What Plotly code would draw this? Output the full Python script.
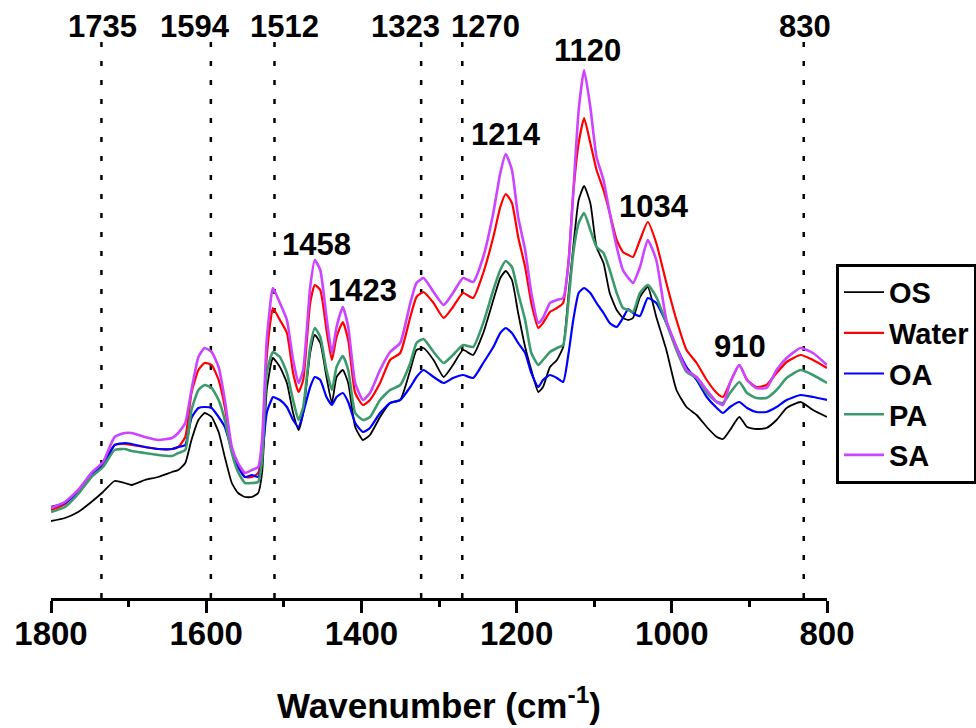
import plotly.graph_objects as go

# Wavenumber grid (cm-1)
wavenumber = [1800, 1782, 1765, 1748, 1733, 1718, 1705, 1696, 1679, 1662,
              1644, 1636, 1627, 1619, 1610, 1602, 1593, 1584, 1576, 1567,
              1559, 1550, 1541, 1533, 1528, 1522, 1516, 1514, 1505, 1496,
              1488, 1481, 1475, 1466, 1460, 1453, 1445, 1438, 1432, 1424,
              1417, 1408, 1398, 1389, 1376, 1363, 1350, 1337, 1329, 1320,
              1307, 1294, 1282, 1269, 1256, 1243, 1230, 1221, 1214, 1206,
              1198, 1189, 1181, 1172, 1166, 1157, 1148, 1140, 1133, 1127,
              1120, 1113, 1105, 1097, 1088, 1080, 1071, 1063, 1056, 1050,
              1041, 1031, 1020, 1007, 994, 981, 968, 955, 942, 934,
              925, 913, 903, 891, 878, 865, 852, 834, 818, 800]

# Intensities (arbitrary units)
sa = [90, 96, 108, 125, 136, 161, 165, 165, 161, 158,
      160, 165, 175, 208, 241, 250, 246, 231, 198, 151,
      135, 125, 128, 131, 158, 258, 303, 310, 295, 278,
      238, 215, 228, 311, 338, 328, 281, 245, 271, 291,
      271, 215, 198, 205, 228, 246, 255, 295, 315, 320,
      306, 293, 305, 320, 316, 341, 385, 425, 444, 428,
      381, 348, 305, 275, 280, 295, 298, 300, 335, 405,
      488, 528, 491, 441, 418, 385, 351, 328, 320, 315,
      331, 358, 338, 278, 251, 228, 221, 208, 196, 193,
      215, 233, 218, 210, 210, 228, 240, 250, 245, 233]

water = [88, 94, 108, 123, 133, 153, 154, 153, 151, 149,
         149, 151, 161, 205, 228, 235, 233, 218, 191, 148,
         133, 121, 121, 125, 151, 241, 283, 290, 278, 265,
         225, 206, 218, 295, 313, 308, 268, 238, 261, 276,
         258, 205, 193, 198, 215, 238, 245, 281, 301, 306,
         295, 280, 291, 305, 300, 325, 361, 391, 404, 395,
         361, 331, 295, 270, 275, 286, 290, 295, 338, 405,
         455, 480, 455, 428, 408, 385, 358, 346, 343, 341,
         358, 376, 355, 315, 278, 248, 235, 218, 205, 201,
         215, 233, 218, 211, 213, 225, 236, 243, 238, 230]

pa = [86, 91, 104, 121, 131, 148, 149, 147, 145, 143,
      142, 145, 148, 188, 208, 213, 210, 198, 178, 145,
      126, 115, 115, 116, 138, 225, 243, 246, 241, 225,
      198, 178, 191, 251, 270, 261, 228, 208, 231, 242,
      228, 185, 178, 181, 198, 208, 213, 235, 255, 259,
      246, 235, 243, 253, 251, 275, 308, 328, 337, 331,
      305, 278, 245, 233, 238, 246, 250, 253, 298, 345,
      375, 385, 368, 351, 345, 328, 305, 290, 288, 286,
      305, 313, 301, 275, 248, 226, 220, 205, 196, 195,
      205, 216, 205, 200, 200, 208, 220, 228, 223, 215]

os_ = [77, 80, 86, 96, 106, 117, 115, 113, 118, 121,
       126, 128, 135, 158, 178, 185, 181, 166, 141, 115,
       105, 101, 101, 105, 125, 208, 236, 240, 231, 215,
       185, 168, 185, 245, 263, 255, 221, 195, 221, 228,
       215, 171, 158, 163, 181, 195, 198, 228, 248, 250,
       238, 221, 233, 248, 243, 265, 298, 320, 327, 318,
       285, 251, 228, 206, 211, 231, 238, 251, 305, 351,
       398, 412, 395, 351, 335, 305, 288, 280, 278, 280,
       301, 311, 281, 248, 208, 191, 183, 171, 161, 159,
       168, 181, 171, 169, 170, 178, 190, 196, 188, 181]

oa = [91, 95, 106, 123, 133, 153, 155, 154, 151, 149,
      149, 151, 153, 180, 190, 191, 190, 181, 171, 148,
      131, 121, 123, 121, 141, 185, 198, 201, 198, 191,
      178, 171, 185, 211, 221, 218, 201, 193, 201, 205,
      196, 175, 166, 170, 185, 195, 198, 211, 221, 228,
      221, 215, 220, 223, 220, 235, 251, 265, 270, 265,
      255, 245, 225, 211, 218, 223, 220, 216, 245, 278,
      305, 310, 305, 295, 285, 275, 271, 280, 289, 285,
      282, 300, 295, 275, 251, 231, 218, 201, 190, 185,
      191, 196, 190, 186, 186, 191, 198, 203, 201, 198]

series_names = ["OS", "Water", "OA", "PA", "SA"]
series_values = [os_, water, oa, pa, sa]
series_colors = ["#000000", "#ff0000", "#0000ff", "#3c9a6c", "#cc44ff"]
series_widths = [1.8, 2.2, 2.2, 2.6, 2.6]

marked_peaks = [1735, 1594, 1512, 1323, 1270, 830]

# label text, anchor wavenumber, paper-y of label centre, x-shift (px)
label_text = ["1735", "1594", "1512", "1323", "1270", "830",
              "1120", "1214", "1458", "1423", "1034", "910"]
label_x = [1735, 1594, 1512, 1323, 1270, 830,
           1120, 1214, 1458, 1423, 1034, 910]
label_ypaper = [1.0233, 1.0233, 1.0233, 1.0233, 1.0233, 1.0233,
                0.9803, 0.8315, 0.6344, 0.5502, 0.7025, 0.4516]
label_dx = [1, -16, 10, -16, 23, 1,
            9, 0, 0, 19, 9, -2]

FONT = "Liberation Sans, Arial, sans-serif"

fig = go.Figure()
for name, vals, col, lw in zip(series_names, series_values, series_colors, series_widths):
    fig.add_trace(go.Scatter(
        x=wavenumber, y=vals, mode="lines", name=name,
        line=dict(color=col, width=lw, shape="spline", smoothing=0.5),
    ))

for w in marked_peaks:
    fig.add_shape(type="line", xref="x", yref="paper", x0=w, x1=w, y0=0, y1=1,
                  line=dict(color="black", width=2.5, dash="5px,14px"), layer="below")

for t, x, y, dx in zip(label_text, label_x, label_ypaper, label_dx):
    fig.add_annotation(x=x, y=y, xref="x", yref="paper", text=t, showarrow=False,
                       xshift=dx, xanchor="center", yanchor="middle",
                       font=dict(family=FONT, size=31, color="black", weight="bold"))

fig.update_layout(
    width=976, height=728,
    margin=dict(l=51, r=149, t=40, b=130, autoexpand=False),
    paper_bgcolor="white", plot_bgcolor="white",
    showlegend=True,
    legend=dict(
        x=1.0116, y=0.599, xanchor="left", yanchor="top",
        bordercolor="black", borderwidth=3, bgcolor="white",
        font=dict(family=FONT, size=29, color="black", weight="bold"),
        tracegroupgap=0, itemwidth=40,
    ),
    xaxis=dict(
        range=[1800, 800], showgrid=False, zeroline=False,
        showline=True, linewidth=3, linecolor="black",
        ticks="outside", ticklen=12, tickwidth=3, tickcolor="black",
        tick0=800, dtick=200, automargin=False, ticklabelstandoff=-8,
        minor=dict(dtick=100, ticks="outside", ticklen=6, tickwidth=3, tickcolor="black", showgrid=False),
        tickfont=dict(family=FONT, size=33, color="black", weight="bold"),
        title=dict(text="Wavenumber (cm<sup>-1</sup>)", standoff=43,
                   font=dict(family=FONT, size=35, color="black", weight="bold")),
    ),
    yaxis=dict(range=[0, 558], visible=False),
)

fig.write_html("out.html", config={"displayModeBar": False},
               post_script="document.body.style.margin='0px';document.body.style.padding='0px';")
